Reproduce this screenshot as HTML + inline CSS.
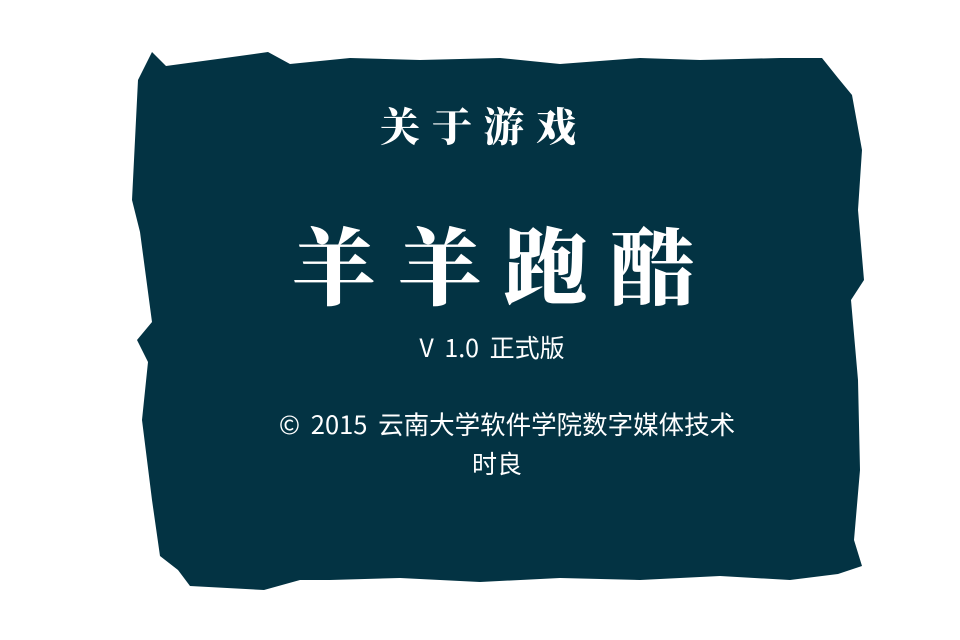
<!DOCTYPE html>
<html><head><meta charset="utf-8"><style>
html,body{margin:0;padding:0;background:#fff;width:960px;height:640px;overflow:hidden}
.t{position:absolute;color:#fff;white-space:nowrap;text-align:center}
.cal{font-family:"Noto Serif CJK SC","WenQuanYi Zen Hei",serif;font-weight:900}
.sans{font-family:"Noto Sans CJK SC","Liberation Sans",sans-serif}
</style></head><body>
<svg width="960" height="640" style="position:absolute;left:0;top:0">
<polygon fill="#033343" points="152,52 166,66 225,58 268,52 290,64 350,58 420,60 500,58 560,64 640,58 700,60 780,58 822,58 838,78 852,95 862,150 858,210 864,280 851,300 858,380 860,470 854,540 862,566 838,574 790,580 720,576 640,580 560,578 480,582 400,578 330,580 300,580 264,590 190,586 178,570 160,556 152,500 142,420 148,362 137,340 152,322 140,232 132,200 138,80"/>
</svg>
<div class="t cal" style="left:368px;top:100px;width:210px;font-size:40px;letter-spacing:12px;line-height:50px;text-indent:12px">关于游戏</div>
<div class="t cal" style="left:270px;top:208px;width:440px;font-size:84px;letter-spacing:22px;line-height:110px;text-indent:22px">羊羊跑酷</div>
<div class="t sans" style="left:342px;top:330px;width:300px;font-size:25px;word-spacing:5px;line-height:34px">V 1.0 正式版</div>
<div class="t sans" style="left:200px;top:407px;width:614px;font-size:25.5px;word-spacing:5px;line-height:34px">© 2015 云南大学软件学院数字媒体技术</div>
<div class="t sans" style="left:397px;top:446px;width:200px;font-size:25px;line-height:34px">时良</div>
</body></html>
